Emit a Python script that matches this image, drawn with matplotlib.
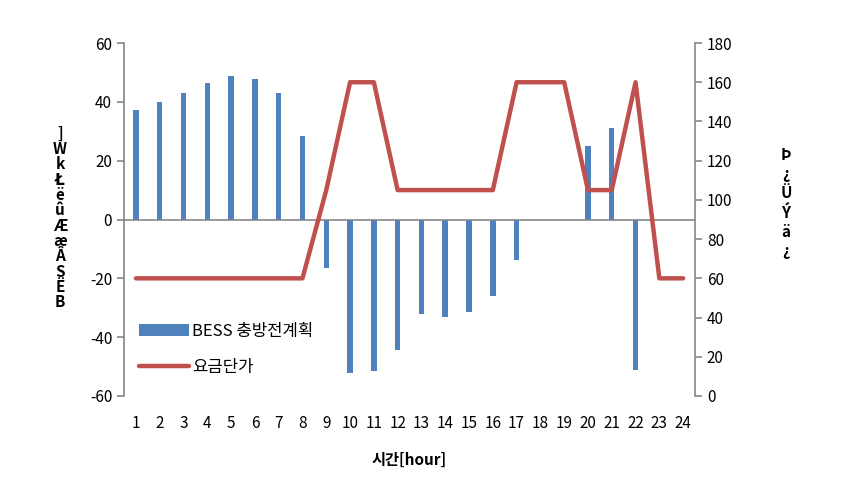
import matplotlib
matplotlib.use("Agg")
import matplotlib.pyplot as plt
from matplotlib.lines import Line2D
from matplotlib.patches import Patch

plt.rcParams['font.family'] = ['Noto Sans CJK KR', 'DejaVu Sans']
plt.rcParams['axes.unicode_minus'] = False

hours = list(range(1, 25))
bess_plan = [37.3, 40.1, 43.1, 46.5, 48.8, 47.9, 42.9, 28.3,
             -16.4, -52.1, -51.4, -44.4, -32.1, -33.1, -31.4, -26.1,
             -13.6, 0, 0, 25.0, 31.0, -51.0, 0, 0]
price = [60, 60, 60, 60, 60, 60, 60, 60,
         105, 160, 160, 105, 105, 105, 105, 105,
         160, 160, 160, 105, 105, 160, 60, 60]
left_ticks = [-60, -40, -20, 0, 20, 40, 60]
right_ticks = [0, 20, 40, 60, 80, 100, 120, 140, 160, 180]
left_label_chars = [']', 'W', 'k', 'Ł', 'ë', 'û', 'Æ', 'æ', 'Â', 'S', 'Ë', 'B']
right_label_chars = ['Þ', '¿', 'Ü', 'Ý', 'ä', '¿']

bar_color = '#4F81BD'
line_color = '#C0504D'
grey = '#868686'

fig = plt.figure(figsize=(8.62, 4.8), dpi=100)
ax = fig.add_axes([0.1439, 0.175, 0.6624, 0.7354])
ax2 = ax.twinx()

ax.bar(hours, bess_plan, width=0.23, color=bar_color, zorder=2)
ax.axhline(0, color=grey, lw=1.2, zorder=3)
ax.set_xlim(0.5, 24.5)
ax.set_ylim(-60, 60)
ax.set_yticks(left_ticks)
ax2.plot(hours, price, color=line_color, lw=3.2, solid_capstyle='round', zorder=4)
ax2.set_ylim(0, 180)
ax2.set_yticks(right_ticks)

for a in (ax, ax2):
    a.spines['top'].set_visible(False)
    a.spines['bottom'].set_visible(False)
    a.spines['left'].set_color(grey)
    a.spines['right'].set_color(grey)
    a.spines['left'].set_linewidth(1.2)
    a.spines['right'].set_linewidth(1.2)
    a.tick_params(axis='y', colors=grey, labelcolor='black', length=5, width=1.2, labelsize=11, direction='out')
ax.spines['right'].set_visible(False)
ax2.spines['left'].set_visible(False)

ax.set_xticks(hours)
ax.set_xticklabels([str(h) for h in hours])
ax.tick_params(axis='x', length=0, pad=14, labelsize=11)

ax.set_xlabel('시간[hour]', fontsize=11, fontweight='bold', labelpad=14)

fig.text(60 / 862, 1 - 218 / 480, '\n'.join(left_label_chars), ha='center', va='center',
         fontsize=11, fontweight='bold', linespacing=0.95)
fig.text(786 / 862, 1 - 203 / 480, '\n'.join(right_label_chars), ha='center', va='center',
         fontsize=11, fontweight='bold', linespacing=1.25)

handles = [Patch(facecolor=bar_color, edgecolor='none'),
           Line2D([0], [0], color=line_color, lw=3.2, solid_capstyle='round')]
leg = ax.legend(handles, ['BESS 충방전계획', '요금단가'], loc='center left',
                bbox_to_anchor=(0.0, 0.132), frameon=False, fontsize=12,
                handlelength=3.0, handleheight=0.75, handletextpad=0.2, labelspacing=1.15)

fig.savefig('out.png', dpi=100)
